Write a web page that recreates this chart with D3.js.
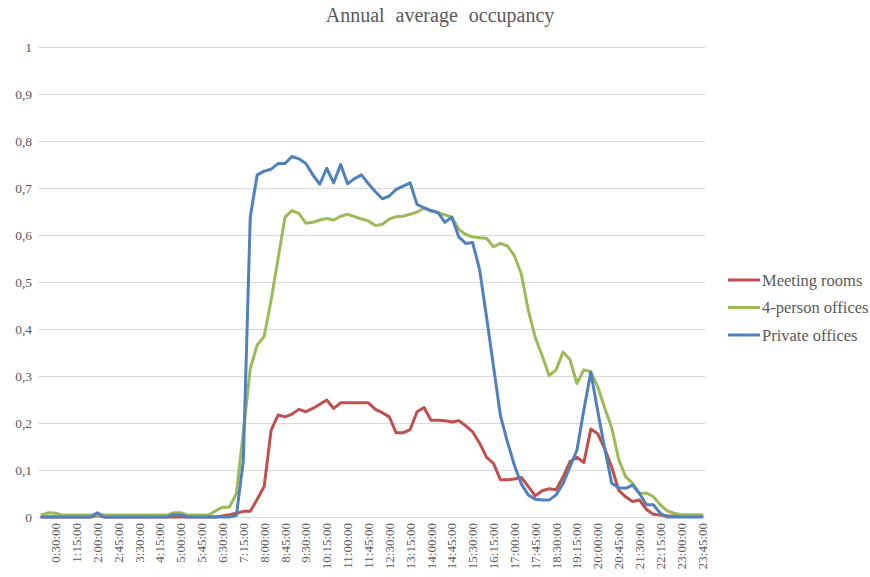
<!doctype html>
<html>
<head>
<meta charset="utf-8">
<script src="https://d3js.org/d3.v7.min.js"></script>
<style>
  body { margin: 0; background: #fff; }
  text { font-family: "Liberation Serif", "Times New Roman", serif; fill: #595959; }
</style>
</head>
<body>
<svg width="870" height="577"></svg>
<script>
// quarter-hour categories, 0:00:00 .. 23:45:00
var times = d3.range(96).map(function(i) {
    return Math.floor(i / 4) + ":" + String((i % 4) * 15).padStart(2, "0") + ":00";
});

var meetingRooms = [
    0, 0, 0, 0,   0, 0, 0, 0,   0.003, 0, 0, 0,   0, 0, 0, 0,
    0, 0, 0, 0,   0, 0, 0, 0,   0, 0, 0.002, 0.005,
    0.008, 0.012, 0.012, 0.038,   0.065, 0.185, 0.217, 0.213,
    0.219, 0.229, 0.224, 0.231,   0.240, 0.249, 0.231, 0.243,
    0.243, 0.243, 0.243, 0.243,   0.229, 0.222, 0.213, 0.179,
    0.179, 0.186, 0.224, 0.233,   0.206, 0.206, 0.205, 0.202,
    0.205, 0.194, 0.181, 0.157,   0.127, 0.114, 0.079, 0.079,
    0.081, 0.084, 0.065, 0.045,   0.056, 0.060, 0.058, 0.085,
    0.118, 0.127, 0.116, 0.187,   0.177, 0.145, 0.107, 0.057,
    0.043, 0.033, 0.036, 0.016,   0.006, 0.004, 0.002, 0.002,
    0.002, 0.002, 0.002, 0.002
];

var fourPerson = [
    0.005, 0.009, 0.008, 0.004,   0.004, 0.004, 0.004, 0.004,
    0.004, 0.004, 0.004, 0.004,   0.004, 0.004, 0.004, 0.004,
    0.004, 0.004, 0.004, 0.009,   0.009, 0.004, 0.004, 0.004,
    0.004, 0.013, 0.021, 0.021,   0.050, 0.180, 0.316, 0.366,
    0.384, 0.462, 0.550, 0.638,   0.652, 0.646, 0.625, 0.627,
    0.632, 0.635, 0.632, 0.640,   0.644, 0.639, 0.634, 0.630,
    0.620, 0.623, 0.634, 0.639,   0.640, 0.644, 0.649, 0.657,
    0.651, 0.647, 0.643, 0.638,   0.612, 0.601, 0.596, 0.594,
    0.593, 0.575, 0.582, 0.577,   0.556, 0.517, 0.440, 0.382,
    0.343, 0.301, 0.313, 0.351,   0.335, 0.284, 0.313, 0.309,
    0.277, 0.232, 0.190, 0.123,   0.086, 0.072, 0.050, 0.051,
    0.043, 0.026, 0.013, 0.008,   0.005, 0.005, 0.005, 0.005
];

var privateOffices = [
    0, 0, 0, 0,   0, 0, 0, 0,   0.009, 0, 0, 0,   0, 0, 0, 0,
    0, 0, 0, 0.005,   0.005, 0, 0, 0,   0, 0, 0, 0,
    0.003, 0.120, 0.639, 0.728,   0.736, 0.740, 0.752, 0.752,
    0.767, 0.762, 0.752, 0.728,   0.708, 0.742, 0.711, 0.750,
    0.709, 0.720, 0.728, 0.709,   0.692, 0.677, 0.683, 0.697,
    0.704, 0.711, 0.665, 0.658,   0.652, 0.648, 0.627, 0.638,
    0.596, 0.582, 0.584, 0.526,   0.425, 0.320, 0.215, 0.160,
    0.110, 0.070, 0.047, 0.038,   0.036, 0.036, 0.047, 0.071,
    0.107, 0.142, 0.228, 0.308,   0.225, 0.145, 0.072, 0.062,
    0.061, 0.068, 0.050, 0.026,   0.026, 0.008, 0, 0,
    0, 0, 0, 0
];

var yTicks = [0, 0.1, 0.2, 0.3, 0.4, 0.5, 0.6, 0.7, 0.8, 0.9, 1];
var xTickLabels = times.filter(function(d, i) { return i % 3 === 2; });

var series = [
    { name: "Meeting rooms", values: meetingRooms, color: "#C0504D" },
    { name: "4-person offices", values: fourPerson, color: "#9BBB59" },
    { name: "Private offices", values: privateOffices, color: "#4F81BD" }
];

var svg = d3.select("svg");

var xScale = d3.scaleBand().domain(times).range([38.3, 705.5]);
var yScale = d3.scaleLinear().domain([0, 1]).range([517, 47]);

// title
svg.append("text")
    .attr("x", 440)
    .attr("y", 22)
    .attr("text-anchor", "middle")
    .attr("font-size", "20px")
    .style("word-spacing", "6px")
    .text("Annual average occupancy");

// horizontal grid
svg.append("g")
    .selectAll("line")
    .data(yTicks)
    .enter().append("line")
    .attr("x1", 38.3)
    .attr("x2", 705.5)
    .attr("y1", function(d) { return yScale(d) + 0.5; })
    .attr("y2", function(d) { return yScale(d) + 0.5; })
    .attr("stroke", "#d9d9d9")
    .attr("stroke-width", 1);

// y axis labels
var yAxis = svg.append("g")
    .attr("transform", "translate(32,0)")
    .call(d3.axisLeft(yScale).tickValues(yTicks).tickSize(0).tickPadding(0)
        .tickFormat(function(d) { return String(d).replace(".", ","); }));
yAxis.select(".domain").remove();
yAxis.selectAll("text")
    .attr("font-size", "13.5px")
    .attr("font-family", null)
    .style("fill", "#595959");

// x axis labels
var xAxis = svg.append("g")
    .attr("transform", "translate(0,517)")
    .call(d3.axisBottom(xScale).tickValues(xTickLabels).tickSize(0));
xAxis.select(".domain").remove();
xAxis.selectAll("text")
    .attr("font-size", "13px")
    .attr("font-family", null)
    .style("fill", "#595959")
    .style("text-anchor", "end")
    .attr("transform", "rotate(-90)")
    .attr("x", -6)
    .attr("y", 0)
    .attr("dy", "0.35em");

// lines
var line = d3.line()
    .x(function(d, i) { return xScale(times[i]) + xScale.bandwidth() / 2; })
    .y(function(d) { return yScale(d); });

svg.append("g")
    .selectAll("path")
    .data(series)
    .enter().append("path")
    .attr("d", function(s) { return line(s.values); })
    .attr("fill", "none")
    .attr("stroke", function(s) { return s.color; })
    .attr("stroke-width", 3)
    .attr("stroke-linejoin", "round")
    .attr("stroke-linecap", "round");

// legend
var legend = svg.append("g")
    .selectAll("g")
    .data(series)
    .enter().append("g")
    .attr("transform", function(d, i) { return "translate(728," + (280 + i * 27.5) + ")"; });

legend.append("line")
    .attr("x1", 0)
    .attr("x2", 32)
    .attr("stroke", function(d) { return d.color; })
    .attr("stroke-width", 3);

legend.append("text")
    .attr("x", 34)
    .attr("dy", "0.35em")
    .attr("font-size", "16.5px")
    .text(function(d) { return d.name; });
</script>
</body>
</html>
